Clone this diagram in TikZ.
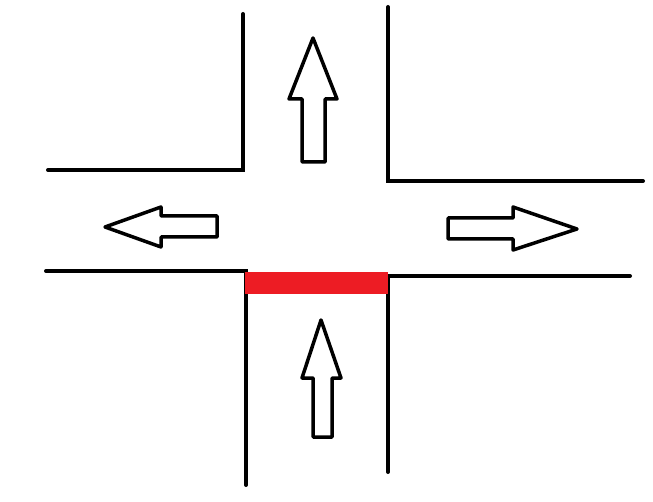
\documentclass[tikz,border=0pt]{standalone}
\usepackage{tikz}
\definecolor{stopred}{RGB}{237,28,36}

\begin{document}
\begin{tikzpicture}[x=1pt, y=-1pt,
        road/.style = {line width=4pt, line cap=round, line join=miter},
        way/.style = {line width=3.5pt, line join=round, fill=white},
        stopline/.style = {fill=stopred}]
        \useasboundingbox (0,0) rectangle (653,502);
        % road edges
        \draw[road] (48,170) -- (243,170) -- (243,14);
        \draw[road] (388,7) -- (388,181) -- (643,181);
        \draw[road] (46,271) -- (246,271) -- (246,485);
        \draw[road] (630,276) -- (388,276) -- (388,472);
        % stop line
        \fill[stopline] (245,272) rectangle (388,294);
        % direction arrows
        \draw[way] (313,38) -- (337,99) -- (325,99) -- (325,162) -- (302,162) -- (302,99) -- (289,99) -- cycle;
        \draw[way] (321,320) -- (341,378) -- (332,378) -- (332,437) -- (313,437) -- (313,378) -- (302,378) -- cycle;
        \draw[way] (105,227) -- (161,207) -- (161,216) -- (217,216) -- (217,237) -- (161,237) -- (161,247) -- cycle;
        \draw[way] (577,229) -- (513,207) -- (513,218) -- (448,218) -- (448,239) -- (513,239) -- (513,250) -- cycle;
    \end{tikzpicture}
\end{document}
